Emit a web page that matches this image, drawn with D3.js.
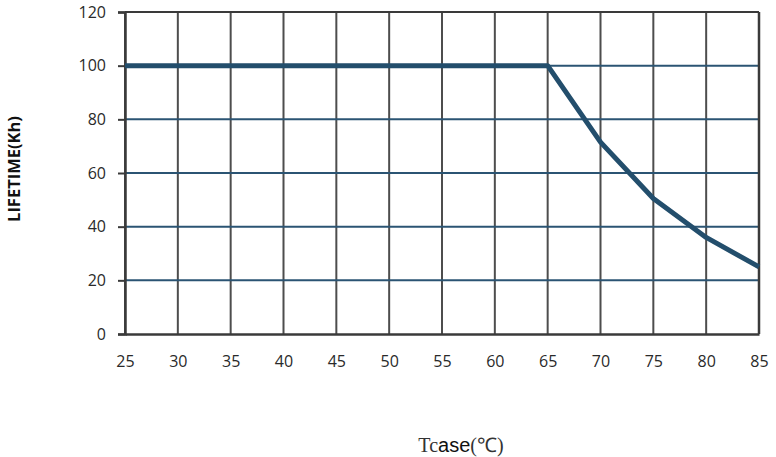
<!DOCTYPE html>
<html>
<head>
<meta charset="utf-8">
<script src="https://cdn.jsdelivr.net/npm/d3@7"></script>
<style>
  body { margin: 0; background: #fff; }
  text { font-family: "Open Sans", "Liberation Sans", sans-serif; }
</style>
</head>
<body>
<div id="chart"></div>
<script>
// data
const tcase = [25, 65, 70, 75, 80, 85];
const lifetime = [100, 100, 71.5, 50.5, 36, 25];
const xTicks = [25, 30, 35, 40, 45, 50, 55, 60, 65, 70, 75, 80, 85];
const yTicks = [0, 20, 40, 60, 80, 100, 120];

const W = 776, H = 457;
const margin = { top: 12, right: 17, bottom: 123, left: 125 };
const width = W - margin.left - margin.right;
const height = H - margin.top - margin.bottom;

const svg = d3.select("#chart").append("svg")
  .attr("width", W)
  .attr("height", H);

const g = svg.append("g")
  .attr("transform", `translate(${margin.left},${margin.top})`);

const x = d3.scaleLinear().domain([25, 85]).range([0, width]);
const y = d3.scaleLinear().domain([0, 120]).range([height, 0]);

// vertical grid (grey)
g.append("g")
  .selectAll("line")
  .data(xTicks)
  .join("line")
    .attr("x1", d => x(d)).attr("x2", d => x(d))
    .attr("y1", 0).attr("y2", height)
    .attr("stroke", "#4d4d4d")
    .attr("stroke-width", 2);

// horizontal grid (blue)
g.append("g")
  .selectAll("line")
  .data(yTicks.filter(d => d > 0 && d < 120))
  .join("line")
    .attr("x1", 0).attr("x2", width)
    .attr("y1", d => y(d)).attr("y2", d => y(d))
    .attr("stroke", "#2b5473")
    .attr("stroke-width", 2);

// top border
g.append("line")
  .attr("x1", 0).attr("x2", width)
  .attr("y1", y(120)).attr("y2", y(120))
  .attr("stroke", "#3a3a3a").attr("stroke-width", 2);

// y axis
const yAxis = g.append("g")
  .call(d3.axisLeft(y).tickValues(yTicks).tickSize(7).tickPadding(12));
yAxis.select(".domain").attr("stroke", "#3a3a3a").attr("stroke-width", 2.5);
yAxis.selectAll(".tick line").attr("stroke", "#3a3a3a").attr("stroke-width", 2);
yAxis.selectAll(".tick text").attr("font-size", 16).attr("fill", "#2a2a2a");

// x axis
const xAxis = g.append("g")
  .attr("transform", `translate(0,${height})`)
  .call(d3.axisBottom(x).tickValues(xTicks).tickSize(0).tickPadding(22));
xAxis.select(".domain").attr("stroke", "#3a3a3a").attr("stroke-width", 2.5);
xAxis.selectAll(".tick text").attr("font-size", 16).attr("fill", "#2a2a2a");

// right border
g.append("line")
  .attr("x1", width).attr("x2", width)
  .attr("y1", 0).attr("y2", height)
  .attr("stroke", "#3a3a3a").attr("stroke-width", 2.5);

// lifetime curve
g.append("path")
  .datum(tcase.map((t, i) => [t, lifetime[i]]))
  .attr("d", d3.line().x(d => x(d[0])).y(d => y(d[1])))
  .attr("fill", "none")
  .attr("stroke", "#234e6c")
  .attr("stroke-width", 5)
  .attr("stroke-linejoin", "round");

// axis titles
svg.append("text")
  .attr("transform", "translate(20,169) rotate(-90)")
  .attr("text-anchor", "middle")
  .attr("font-family", "Liberation Sans, Arial, sans-serif")
  .attr("font-size", 16.5)
  .attr("font-weight", "bold")
  .attr("fill", "#111")
  .text("LIFETIME(Kh)");

const xt = svg.append("text")
  .attr("x", 461).attr("y", 452)
  .attr("text-anchor", "middle")
  .attr("font-size", 20)
  .attr("fill", "#333");
xt.append("tspan").attr("font-family", "Liberation Serif, serif").text("Tc");
xt.append("tspan").attr("font-family", "Liberation Sans, sans-serif").attr("fill", "#111").text("ase");
xt.append("tspan").attr("font-family", "Liberation Serif, serif").text("(℃)");
</script>
</body>
</html>
